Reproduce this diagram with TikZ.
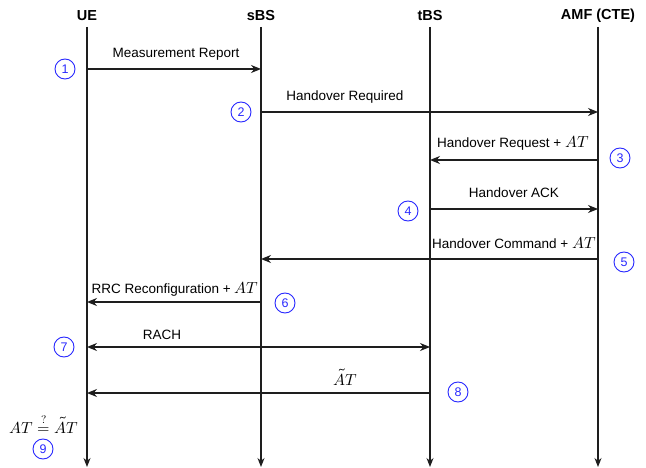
\documentclass[tikz,border=0pt]{standalone}
\usepackage{fontspec}
\setmainfont{Liberation Sans}
\usepackage{amsmath}
\usepackage{unicode-math}
\setmathfont{Latin Modern Math}
\usetikzlibrary{arrows.meta}
\definecolor{numblue}{RGB}{40,40,255}
\definecolor{linec}{RGB}{30,30,30}
\newcommand{\lgmath}[1]{{\fontsize{16}{18}\selectfont$#1$}}
\begin{document}
\begin{tikzpicture}[x=1pt,y=-1pt,
  hdr/.style={font=\fontsize{14.5}{16}\selectfont\bfseries, inner sep=0pt},
  lbl/.style={font=\fontsize{13.5}{15}\selectfont, inner sep=0pt, anchor=base},
  life/.style={draw=linec, line width=1.2pt, -{Stealth[length=9pt,width=7pt]}},
  msg/.style={draw=linec, line width=1.2pt, -{Stealth[length=10pt,width=8pt]}},
  dmsg/.style={draw=linec, line width=1.2pt, {Stealth[length=10pt,width=8pt]}-{Stealth[length=10pt,width=8pt]}},
  num/.style={circle, draw=numblue, line width=0.9pt, text=numblue, minimum size=20pt, inner sep=0pt, font=\fontsize{12.5}{13}\selectfont}]
\useasboundingbox (0,0) rectangle (646,468);
% headers
\node[hdr] (hUE) at (87,16) {UE};
\node[hdr] (hsBS) at (261,16) {sBS};
\node[hdr] (htBS) at (430,16) {tBS};
\node[hdr] (hAMF) at (598,16) {AMF (CTE)};
% lifeline ends
\coordinate (ueT) at (87,27);   \coordinate (ueB) at (87,467);
\coordinate (sbT) at (261,27);  \coordinate (sbB) at (261,467);
\coordinate (tbT) at (430,27);  \coordinate (tbB) at (430,467);
\coordinate (amT) at (598,27);  \coordinate (amB) at (598,467);
\draw[life] (ueT) -- (ueB);
\draw[life] (sbT) -- (sbB);
\draw[life] (tbT) -- (tbB);
\draw[life] (amT) -- (amB);
% message end points
\coordinate (ue1) at (87,69);   \coordinate (sb1) at (261,69);
\coordinate (sb2) at (261,112); \coordinate (am2) at (598,112);
\coordinate (am3) at (598,160); \coordinate (tb3) at (430,160);
\coordinate (tb4) at (430,209); \coordinate (am4) at (598,209);
\coordinate (am5) at (598,259); \coordinate (sb5) at (261,259);
\coordinate (sb6) at (261,302); \coordinate (ue6) at (87,302);
\coordinate (ue7) at (87,347);  \coordinate (tb7) at (430,347);
\coordinate (tb8) at (430,393); \coordinate (ue8) at (87,393);
% messages
\draw[msg] (ue1) -- (sb1);
\draw[msg] (sb2) -- (am2);
\draw[msg] (am3) -- (tb3);
\draw[msg] (tb4) -- (am4);
\draw[msg] (am5) -- (sb5);
\draw[msg] (sb6) -- (ue6);
\draw[dmsg] (ue7) -- (tb7);
\draw[msg] (tb8) -- (ue8);
% labels
\node[lbl] (l1) at (176,58) {Measurement Report};
\node[lbl] (l2) at (345,101) {Handover Required};
\node[lbl] (l3) at (513,148) {Handover Request + \lgmath{AT}};
\node[lbl] (l4) at (514,198) {Handover ACK};
\node[lbl] (l5) at (514,248) {Handover Command + \lgmath{AT}};
\node[lbl] (l6) at (175,294) {RRC Reconfiguration + \lgmath{AT}};
\node[lbl] (l7) at (162,339) {RACH};
\node[lbl] (l8) at (345,385) {\lgmath{\tilde{A}T}};
\node[lbl] (l9) at (44,433) {\lgmath{AT \overset{?}{=} \tilde{A}T}};
% step numbers
\node[num] (n1) at (65,69) {1};
\node[num] (n2) at (241,112) {2};
\node[num] (n3) at (620,158) {3};
\node[num] (n4) at (408,211) {4};
\node[num] (n5) at (624,262) {5};
\node[num] (n6) at (285,303) {6};
\node[num] (n7) at (64,347) {7};
\node[num] (n8) at (458,392) {8};
\node[num] (n9) at (43,449) {9};
\end{tikzpicture}
\end{document}
